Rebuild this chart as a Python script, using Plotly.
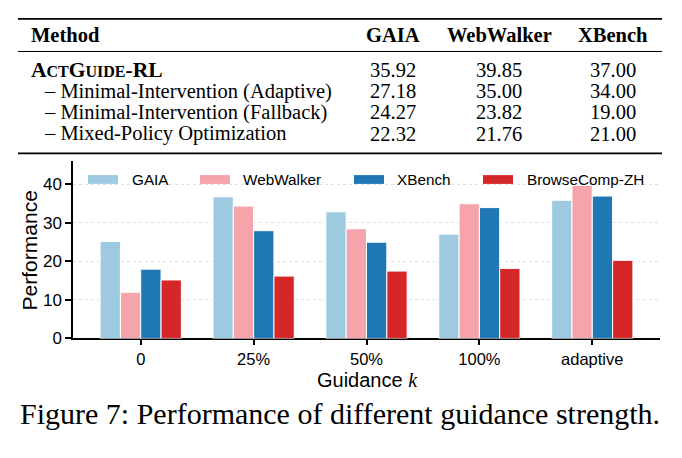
import plotly.graph_objects as go

W, H = 682, 458

# ---------------- data ----------------
categories = ["0", "25%", "50%", "100%", "adaptive"]
series_names = ["GAIA", "WebWalker", "XBench", "BrowseComp-ZH"]
gaia = [25.2, 36.8, 32.9, 27.1, 35.9]
webwalker = [12.0, 34.4, 28.5, 35.0, 39.8]
xbench = [18.0, 28.0, 25.0, 34.0, 37.0]
browsecomp = [15.2, 16.2, 17.5, 18.2, 20.3]
series_values = [gaia, webwalker, xbench, browsecomp]
colors = ["#9ecae1", "#f4a4aa", "#1f78b4", "#d62728"]
y_ticks = [0, 10, 20, 30, 40]

table_header = ["Method", "GAIA", "WebWalker", "XBench"]
table_methods = ["– Minimal-Intervention (Adaptive)",
                 "– Minimal-Intervention (Fallback)",
                 "– Mixed-Policy Optimization"]
table_main = ["35.92", "39.85", "37.00"]
table_rows = [["27.18", "35.00", "34.00"],
              ["24.27", "23.82", "19.00"],
              ["22.32", "21.76", "21.00"]]
caption = "Figure 7: Performance of different guidance strength."

# ---------------- helpers (pixel -> paper) ----------------
def px(x):
    return x / W

def py(y):
    return 1 - y / H

SANS = "Liberation Sans, Arial, sans-serif"
SERIF = "Liberation Serif, Times New Roman, serif"

fig = go.Figure()
for name, vals, col in zip(series_names, series_values, colors):
    fig.add_trace(go.Bar(x=categories, y=vals, name=name,
                         marker=dict(color=col, line=dict(color="white", width=1)),
                         showlegend=False))

# plot area in pixels
L, R, T, B = 73, 660, 165, 346

fig.update_layout(
    width=W, height=H,
    margin=dict(l=0, r=0, t=0, b=0),
    paper_bgcolor="white", plot_bgcolor="white",
    barmode="group", bargap=0.28, bargroupgap=0,
    font=dict(family=SANS, color="black"),
    xaxis=dict(domain=[px(L), px(R)], range=[-0.6, 4.6], type="category",
               showline=True, linecolor="black", linewidth=1.5,
               ticks="outside", ticklen=5, tickwidth=1.5, tickcolor="black",
               tickfont=dict(size=16.5, family=SANS), showgrid=False,
               layer="below traces"),
    yaxis=dict(domain=[py(B), py(T)], range=[0, 46],
               tickvals=y_ticks, showline=True, linecolor="black", linewidth=1.5,
               ticks="outside", ticklen=6, tickwidth=1.5, tickcolor="black",
               tickfont=dict(size=17, family=SANS),
               showgrid=True, gridcolor="#e0e0e0", gridwidth=1, griddash="dot",
               zeroline=False),
)

# axis titles
fig.add_annotation(x=px(29), y=py(256), xref="paper", yref="paper",
                   text="Performance", textangle=-90, showarrow=False,
                   font=dict(size=21, family=SANS), xanchor="center", yanchor="middle")
fig.add_annotation(x=px(367), y=py(388), xref="paper", yref="paper",
                   text="Guidance <span style='font-family:Liberation Serif'><i>k</i></span>",
                   showarrow=False, font=dict(size=20, family=SANS),
                   xanchor="center", yanchor="middle", borderpad=0)

# legend (manual)
leg_patch_x = [88, 200, 354, 483]
leg_text_x = [130, 241, 395, 525]
for name, col, x0, tx in zip(series_names, colors, leg_patch_x, leg_text_x):
    fig.add_shape(type="rect", xref="paper", yref="paper",
                  x0=px(x0), x1=px(x0 + 30), y0=py(188), y1=py(179),
                  fillcolor=col, line=dict(width=0))
    fig.add_annotation(x=px(tx), y=py(183.5), xref="paper", yref="paper",
                       text=name, showarrow=False, font=dict(size=15.3, family=SANS),
                       xanchor="left", yanchor="middle")

# ---------------- table ----------------
TL, TR = 18, 662
fig.add_shape(type="line", xref="paper", yref="paper", x0=px(TL), x1=px(TR),
              y0=py(19.3), y1=py(19.3), line=dict(color="black", width=1.8))
fig.add_shape(type="line", xref="paper", yref="paper", x0=px(TL), x1=px(TR),
              y0=py(52.7), y1=py(52.7), line=dict(color="black", width=1.1))
fig.add_shape(type="line", xref="paper", yref="paper", x0=px(TL), x1=px(TR),
              y0=py(156.7), y1=py(156.7), line=dict(color="black", width=1.8))

col_x = [393, 499, 613]
TFS = 20.5
fig.add_annotation(x=px(29), y=py(36), xref="paper", yref="paper",
                   text="<b>" + table_header[0] + "</b>", showarrow=False,
                   font=dict(size=TFS, family=SERIF), xanchor="left", yanchor="middle")
for h, cx in zip(table_header[1:], col_x):
    fig.add_annotation(x=px(cx), y=py(36), xref="paper", yref="paper",
                       text="<b>" + h + "</b>", showarrow=False,
                       font=dict(size=TFS, family=SERIF), xanchor="center", yanchor="middle")

sc = "font-size:16px"
fig.add_annotation(x=px(29), y=py(71.5), xref="paper", yref="paper",
                   text=f"<b>A<span style='{sc}'>CT</span>G<span style='{sc}'>UIDE</span>-RL</b>",
                   showarrow=False, font=dict(size=21.5, family=SERIF),
                   xanchor="left", yanchor="middle")
for v, cx in zip(table_main, col_x):
    fig.add_annotation(x=px(cx), y=py(72), xref="paper", yref="paper",
                       text=v, showarrow=False, font=dict(size=TFS, family=SERIF),
                       xanchor="center", yanchor="middle")

row_y = [93.5, 115, 136.5]
for m, vals, ry in zip(table_methods, table_rows, row_y):
    fig.add_annotation(x=px(42), y=py(ry), xref="paper", yref="paper",
                       text=m, showarrow=False, font=dict(size=TFS, family=SERIF),
                       xanchor="left", yanchor="middle")
    for v, cx in zip(vals, col_x):
        fig.add_annotation(x=px(cx), y=py(ry), xref="paper", yref="paper",
                           text=v, showarrow=False, font=dict(size=TFS, family=SERIF),
                           xanchor="center", yanchor="middle")

# caption
fig.add_annotation(x=px(340), y=py(423), xref="paper", yref="paper",
                   text=caption, showarrow=False, font=dict(size=30, family=SERIF),
                   xanchor="center", yanchor="middle")

fig.write_html("out.html")
